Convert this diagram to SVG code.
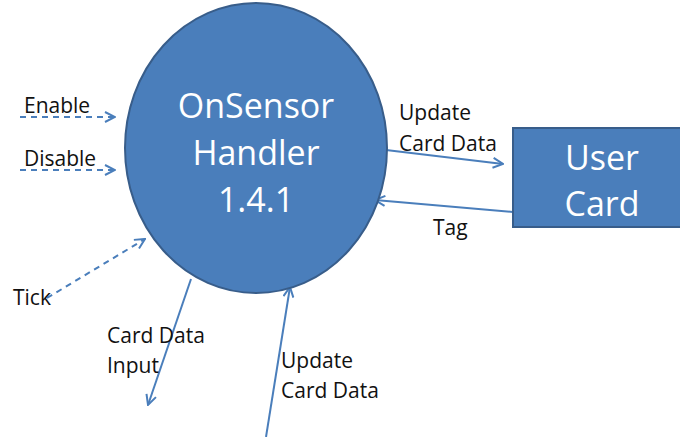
<svg xmlns="http://www.w3.org/2000/svg" width="680" height="437" viewBox="0 0 680 437">
<style>
.lbl{font-family:"Open Sans","Noto Sans",sans-serif;font-size:21px;fill:#111}
.big{font-family:"Open Sans","Noto Sans",sans-serif;fill:#fff;text-anchor:middle}
.ln{stroke:#4a7ebb;stroke-width:2;fill:none}
.dash{stroke-dasharray:6,5}
</style>
<defs>
<marker id="ah" viewBox="0 0 12 12" refX="11" refY="6" markerWidth="12" markerHeight="12" markerUnits="userSpaceOnUse" orient="auto">
<path d="M1,1 L11,6 L1,11" fill="none" stroke="#4a7ebb" stroke-width="2"/>
</marker>
</defs>
<rect width="680" height="437" fill="#fff"/>
<g id="connectors">
<line class="ln dash" x1="20" y1="117" x2="115" y2="117" marker-end="url(#ah)"/>
<line class="ln dash" x1="20" y1="170" x2="115" y2="170" marker-end="url(#ah)"/>
<line class="ln dash" x1="47" y1="298" x2="145" y2="239" marker-end="url(#ah)"/>
<line class="ln" x1="386" y1="150" x2="503" y2="164" marker-end="url(#ah)"/>
<line class="ln" x1="513" y1="212" x2="375" y2="200" marker-end="url(#ah)"/>
<line class="ln" x1="191" y1="279" x2="148" y2="405" marker-end="url(#ah)"/>
<line class="ln" x1="266" y1="437" x2="290" y2="287" marker-end="url(#ah)"/>
<text class="lbl" x="24" y="113">Enable</text>
<text class="lbl" x="24" y="166">Disable</text>
<text class="lbl" x="13" y="305">Tick</text>
<text class="lbl" x="399" y="120">Update</text>
<text class="lbl" x="399" y="151">Card Data</text>
<text class="lbl" x="433" y="235">Tag</text>
<text class="lbl" x="107" y="343">Card Data</text>
<text class="lbl" x="107" y="373">Input</text>
<text class="lbl" x="281" y="368">Update</text>
<text class="lbl" x="281" y="398">Card Data</text>
</g>
<g id="handler">
<ellipse cx="256" cy="148" rx="131" ry="145" fill="#4a7ebb" stroke="#385d8a" stroke-width="2"/>
<text class="big" x="256" y="118" font-size="34">OnSensor</text>
<text class="big" x="256" y="165" font-size="34">Handler</text>
<text class="big" x="256" y="212" font-size="34">1.4.1</text>
</g>
<g id="usercard">
<rect x="513" y="128" width="170" height="99" fill="#4a7ebb" stroke="#385d8a" stroke-width="2"/>
<text class="big" x="602" y="170" font-size="34">User</text>
<text class="big" x="602" y="216" font-size="34">Card</text>
</g>
</svg>
